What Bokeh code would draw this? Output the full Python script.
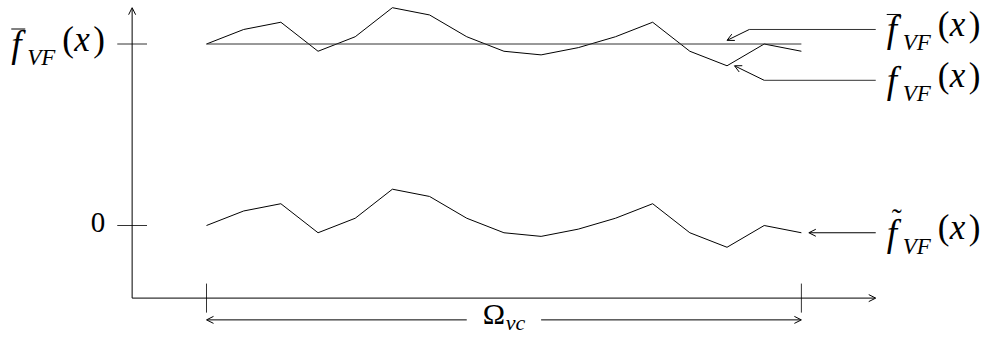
from bokeh.plotting import figure
from bokeh.models import Range1d, Arrow, OpenHead
from bokeh.core.properties import value
from bokeh.embed import file_html
from bokeh.resources import INLINE

# ---- data (cm units of the original drawing) ----
x_vals = [0, 1, 2, 3, 4, 5, 6, 7, 8, 9, 10, 11, 12, 13, 14, 15, 16]
f_tilde = [0, 0.4, 0.6, -0.2, 0.2, 1.0, 0.8, 0.2, -0.2, -0.3, -0.1, 0.2, 0.6, -0.2, -0.6, 0, -0.2]
f_mean = 5.0
f_vf = [f_mean + v for v in f_tilde]
y_tick_values = [0, f_mean]
omega_span = [0, 16]

# ---- figure geometry ----
W, H = 982, 336
SX = 37.18          # px per cm, horizontal
SY = 36.3           # px per cm, vertical
X0 = -206 / SX
X1 = X0 + W / SX
Y1 = 225 / SY
Y0 = Y1 - H / SY
K = 0.37            # baseline correction (fraction of font size)


def dx(px):
    return px / SX


def dy(px):  # screen px downward -> data offset
    return -px / SY


def base(px_below, size):
    return dy(px_below - K * size)


SERIF = value("Liberation Serif")
LC = "black"
GC = "#333333"

p = figure(width=W, height=H, x_range=Range1d(X0, X1), y_range=Range1d(Y0, Y1),
           output_backend="svg", toolbar_location=None, min_border=0,
           x_axis_type=None, y_axis_type=None)
p.grid.visible = False
p.outline_line_color = None
p.background_fill_color = "white"
p.border_fill_color = "white"


def arrow(x0, y0, x1, y1):
    p.add_layout(Arrow(end=OpenHead(size=7, line_width=1, line_color=LC),
                       x_start=x0, y_start=y0, x_end=x1, y_end=y1,
                       line_width=1, line_color=LC))


# axes with arrow heads
x_axis_left = -2
y_axis_bottom = -2
arrow(x_axis_left, y_axis_bottom, x_axis_left, 6)
arrow(x_axis_left, y_axis_bottom, 18, y_axis_bottom)

# y ticks
for yt in y_tick_values:
    p.line([-2.4, -1.6], [yt, yt], line_color=GC, line_width=1)

# Omega ticks
for xt in omega_span:
    p.line([xt, xt], [y_axis_bottom + 0.4, y_axis_bottom - 0.4], line_color=GC, line_width=1)

# curves
p.line(x_vals, f_vf, line_color=LC, line_width=1)
p.line([x_vals[0], x_vals[-1]], [f_mean, f_mean], line_color=GC, line_width=1)
p.line(x_vals, f_tilde, line_color=LC, line_width=1)

# Omega span arrows and label
arrow(7, -2.6, omega_span[0], -2.6)
arrow(9, -2.6, omega_span[1], -2.6)
p.text([8.03], [-2.6 + base(5, 30)], text=["Ω"], text_font=SERIF, text_font_size="30px",
       text_align="right", text_baseline="alphabetic", text_color=LC)
p.text([8.05], [-2.6 + base(11, 22)], text=["vc"], text_font=SERIF, text_font_size="22px",
       text_font_style="italic", text_align="left", text_baseline="alphabetic", text_color=LC)

# annotation leaders
p.line([18, 14.6], [5.4, 5.4], line_color=GC, line_width=1)
arrow(14.6, 5.4, 14.0, 5.1)
p.line([18, 15], [4, 4], line_color=GC, line_width=1)
arrow(15, 4, 14.2, 4.4)
arrow(18, -0.2, 16.2, -0.2)


def math_label(xL, yC, deco):
    p.text([xL + dx(-1)], [yC + base(14, 37)], text=["f"], text_font=SERIF, text_font_size="37px",
           text_font_style="italic", text_baseline="alphabetic", text_color=LC)
    p.text([xL + dx(15)], [yC + base(22, 23)], text=["VF"], text_font=SERIF, text_font_size="23px",
           text_font_style="italic", text_baseline="alphabetic", text_color=LC)
    p.text([xL + dx(50)], [yC + base(8, 35)], text=["("], text_font=SERIF, text_font_size="35px",
           text_baseline="alphabetic", text_color=LC)
    p.text([xL + dx(62)], [yC + base(8, 35)], text=["x"], text_font=SERIF, text_font_size="35px",
           text_font_style="italic", text_baseline="alphabetic", text_color=LC)
    p.text([xL + dx(81)], [yC + base(8, 35)], text=[")"], text_font=SERIF, text_font_size="35px",
           text_baseline="alphabetic", text_color=LC)
    if deco == "bar":
        p.line([xL + dx(-1), xL + dx(13)], [yC + dy(-15), yC + dy(-15)], line_color=LC, line_width=1)
    elif deco == "tilde":
        p.text([xL + dx(9)], [yC + base(-3, 30)], text=["˜"], text_font=SERIF, text_font_size="30px",
               text_align="center", text_baseline="alphabetic", text_color=LC)


# left tick labels
math_label(-2.4 - dx(105), f_mean, "bar")
p.text([-2.4 - dx(12)], [0 + base(8, 29)], text=["0"], text_font=SERIF, text_font_size="29px",
       text_align="right", text_baseline="alphabetic", text_color=LC)

# right annotation labels
xR = 18 + dx(12)
math_label(xR, 5.4, "bar")
math_label(xR, 4.0, None)
math_label(xR, -0.2, "tilde")

open("out.html", "w").write(file_html(p, INLINE))
